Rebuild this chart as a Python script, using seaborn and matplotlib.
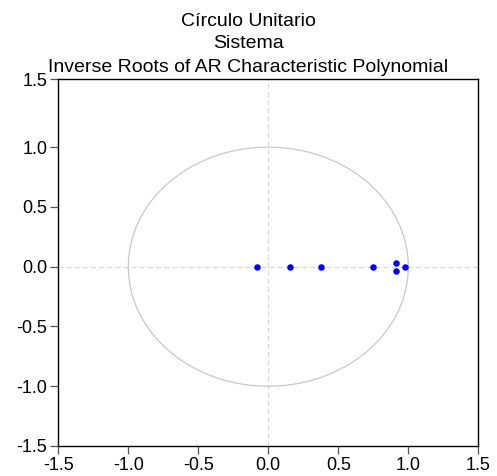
import numpy as np
import pandas as pd
import matplotlib
matplotlib.use("Agg")
import matplotlib.pyplot as plt
import seaborn as sns

# Inverse roots (real, imaginary)
root_real = [-0.081, 0.152, 0.376, 0.745, 0.914, 0.914, 0.979]
root_imag = [0.0, 0.0, 0.0, 0.0, 0.032, -0.032, 0.0]

title_lines = ["Círculo Unitario", "Sistema", "Inverse Roots of AR Characteristic Polynomial"]
x_ticks = [-1.5, -1.0, -0.5, 0.0, 0.5, 1.0, 1.5]
y_ticks = [-1.5, -1.0, -0.5, 0.0, 0.5, 1.0]
y_top = 1.57
y_tick_labels = ["-1.5", "-1.0", "-0.5", "0.0", "0.5", "1.0", "1.5"]

sns.set_theme(style="white")
plt.rcParams['font.family'] = ['Liberation Sans', 'DejaVu Sans']
plt.rcParams['text.color'] = 'black'

fig = plt.figure(figsize=(4.97, 4.76), dpi=100)
ax = fig.add_axes([58.3/497, 30/476, 420/497, 367/476])

# unit circle
theta = np.linspace(0, 2*np.pi, 400)
ax.plot(np.cos(theta), np.sin(theta), color="#c8c8c8", lw=0.9, zorder=1)
ax.axhline(0, color="#d8d8d8", lw=0.9, ls=(0, (4, 2.5)), zorder=0)
ax.axvline(0, color="#d8d8d8", lw=0.9, ls=(0, (4, 2.5)), zorder=0)

df = pd.DataFrame({"re": root_real, "im": root_imag})
sns.scatterplot(data=df, x="re", y="im", ax=ax, color="#0000ff", s=22,
                edgecolor="#0000ff", linewidth=0, zorder=3)

ax.set_xlim(-1.5, 1.5)
ax.set_ylim(-1.5, y_top)
ax.set_xticks(x_ticks)
ax.set_xticklabels([f"{v:.1f}" for v in x_ticks])
ax.set_yticks(y_ticks + [y_top])
ax.set_yticklabels(y_tick_labels)
ax.set_xlabel("")
ax.set_ylabel("")
ax.tick_params(axis="both", direction="out", length=6, width=0.9, color="#555555",
               labelsize=13, labelcolor="black", pad=2,
               bottom=True, left=True)
for s in ax.spines.values():
    s.set_color("black")
    s.set_linewidth(1.0)

for i, line in enumerate(title_lines):
    fig.text(0.5, 1 - (21 + 23 * i) / 476, line, ha="center", va="center",
             fontsize=14, color="black")

fig.savefig("out.png", dpi=100)
